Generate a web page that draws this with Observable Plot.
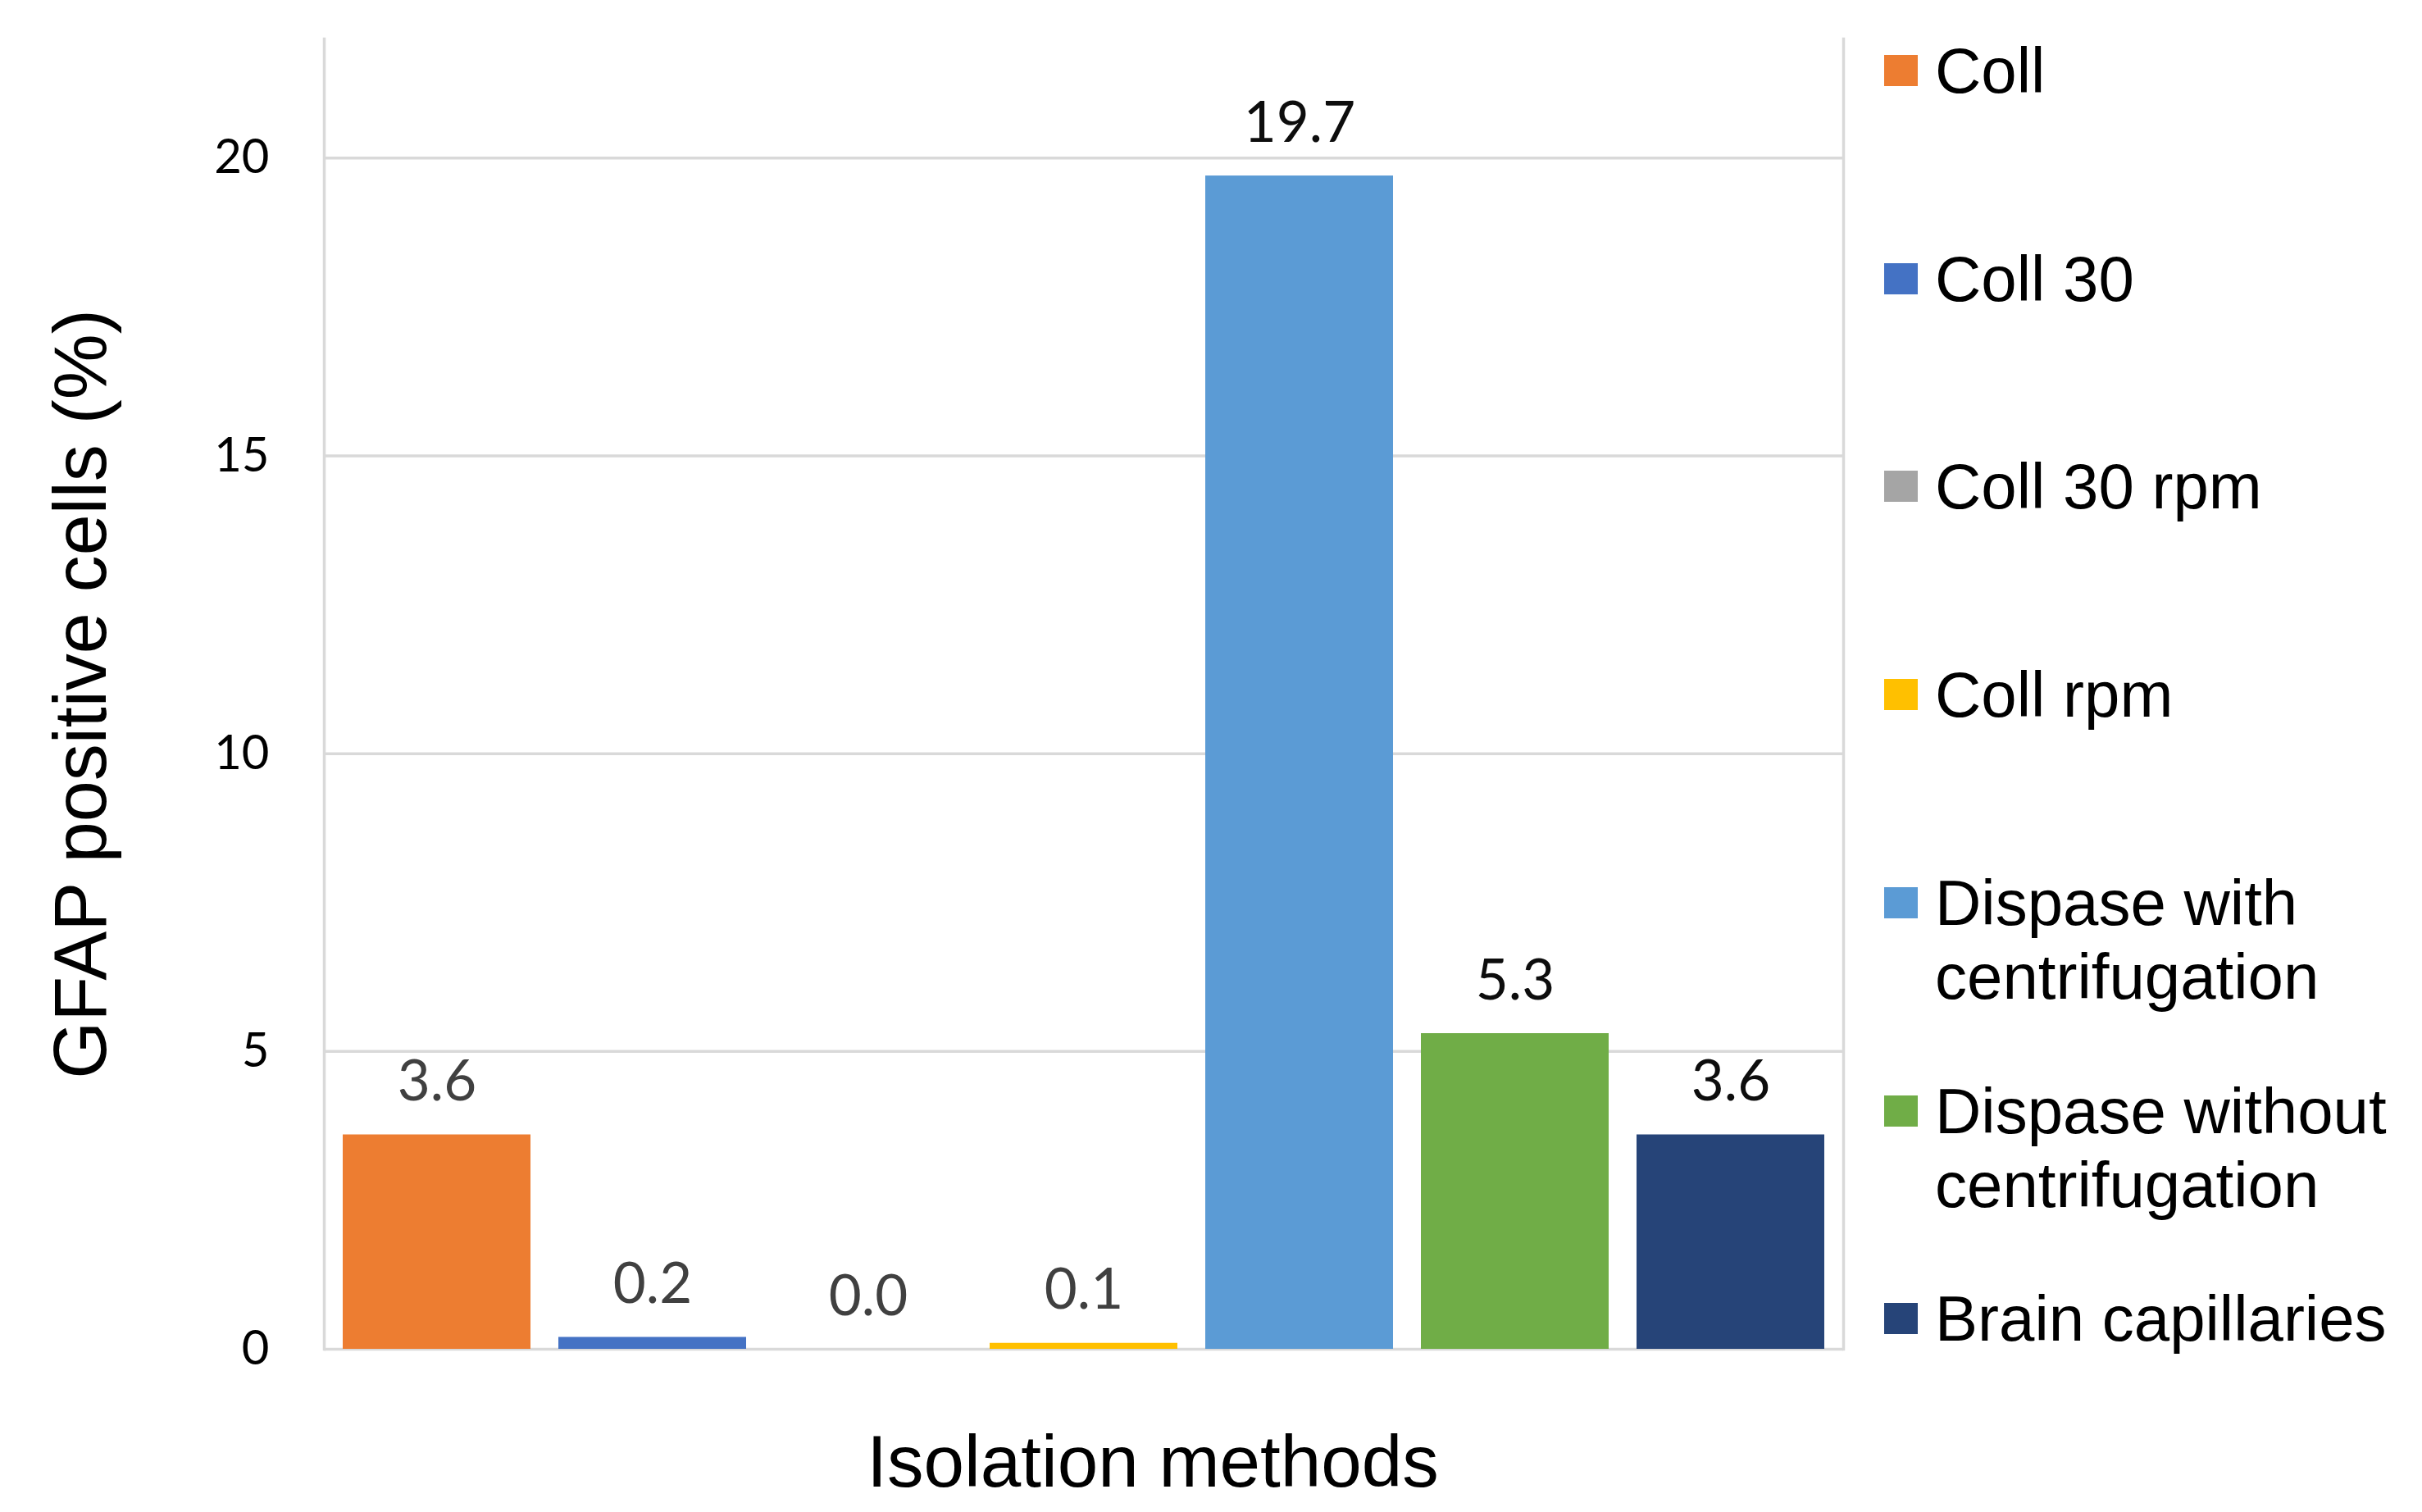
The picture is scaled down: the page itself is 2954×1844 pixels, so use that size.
<!DOCTYPE html>
<html><head><meta charset="utf-8">
<script src="https://cdn.jsdelivr.net/npm/d3@7"></script>
<script src="https://cdn.jsdelivr.net/npm/@observablehq/plot@0.6"></script>
<style>
html,body{margin:0;padding:0;background:#fff;}
#wrap{position:relative;width:2954px;height:1844px;overflow:hidden;}
#legend{position:absolute;left:2298px;top:0;width:656px;font-family:"Liberation Sans",Arial,sans-serif;font-size:78px;line-height:90px;color:#000;}
.item{position:absolute;left:0;display:flex;align-items:flex-start;}
.sw{width:41px;height:38px;margin-top:26px;flex:none;margin-right:21px;}
.lbl{width:590px;}
</style></head><body><div id="wrap"></div>
<script>
const methods = ["Coll", "Coll 30", "Coll 30 rpm", "Coll rpm", "Dispase with centrifugation", "Dispase without centrifugation", "Brain capillaries"];
const values = [3.6, 0.2, 0.0, 0.1, 19.7, 5.3, 3.6];
const colors = ["#ED7D31", "#4472C4", "#A5A5A5", "#FFC000", "#5B9BD5", "#70AD47", "#264478"];
const yTicks = [0, 5, 10, 15, 20];
const yLabel = "GFAP positive cells (%)";
const xLabel = "Isolation methods";

const data = methods.map((m, i) => ({method: m, value: values[i]}));

const chart = Plot.plot({
  width: 2954, height: 1844,
  marginLeft: 395, marginRight: 706, marginTop: 47, marginBottom: 199,
  style: {background: "#fff", fontFamily: "Lato, sans-serif"},
  x: {domain: methods, paddingInner: 0.13, paddingOuter: 0.08, axis: null},
  y: {domain: [0, 22], axis: null},
  color: {domain: methods, range: colors},
  marks: [
    Plot.ruleY(yTicks, {stroke: "#d9d9d9", strokeWidth: 3.5}),
    Plot.frame({anchor: "left", stroke: "#d9d9d9", strokeWidth: 3.5}),
    Plot.frame({anchor: "right", stroke: "#d9d9d9", strokeWidth: 3.5}),
    Plot.barY(data, {x: "method", y: "value", fill: "method"}),
    Plot.text(data, {x: "method", y: "value", text: d => d.value.toFixed(1), lineAnchor: "bottom", dy: -42, fontSize: 69,
      fill: d => methods.indexOf(d.method) >= 4 ? "#0d0d0d" : "#404040"}),
    Plot.axisY(yTicks, {tickSize: 0, tickPadding: 67, fontSize: 58, label: null, color: "#000", tickFormat: d => String(d)}),
    Plot.text([yLabel], {text: d => d, frameAnchor: "left", rotate: -90, dx: -295, textAnchor: "middle", lineAnchor: "middle", fontSize: 90, fontFamily: "Liberation Sans, Arial, sans-serif", fill: "#000"}),
    Plot.text([xLabel], {text: d => d, frameAnchor: "bottom", dx: 84, dy: 167, textAnchor: "middle", lineAnchor: "bottom", fontSize: 89, fontFamily: "Liberation Sans, Arial, sans-serif", fill: "#000"})
  ]
});

const wrap = document.getElementById("wrap");
wrap.appendChild(chart);

const legend = d3.select(wrap).append("div").attr("id", "legend");
methods.forEach((m, i) => {
  const item = legend.append("div").attr("class", "item").style("top", (41 + i * 253.7) + "px");
  item.append("div").attr("class", "sw").style("background", colors[i]);
  item.append("div").attr("class", "lbl").text(m);
});
</script>
</body></html>
